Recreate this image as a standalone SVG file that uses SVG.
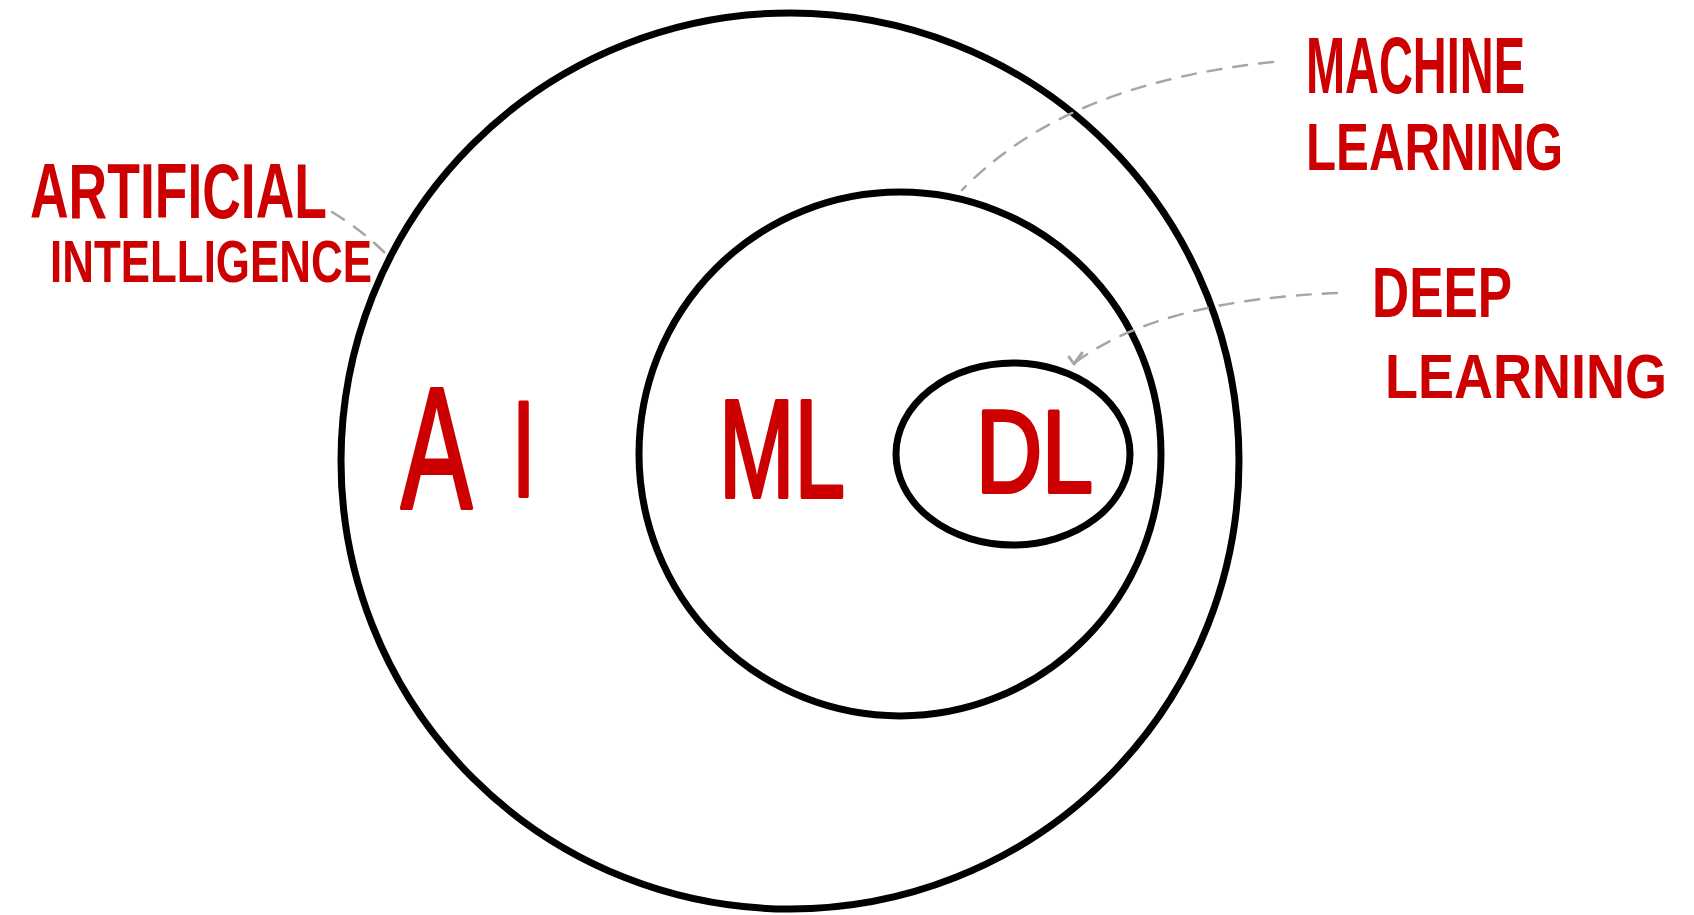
<svg xmlns="http://www.w3.org/2000/svg" width="1694" height="915" viewBox="0 0 1694 915">
<style>
.ring{fill:none;stroke:#000;stroke-width:7}
.lbl{fill:#cc0000;font-family:"Liberation Sans Narrow","Liberation Sans",sans-serif;font-weight:bold}
.big{fill:#cc0000;stroke:#cc0000;stroke-width:4;stroke-linejoin:round;font-family:"Liberation Sans Narrow","Liberation Sans",sans-serif;font-weight:normal}
.con{fill:none;stroke:#a6a6a6;stroke-width:2.5;stroke-dasharray:14 12;stroke-linecap:round}
</style>
<rect width="1694" height="915" fill="#fff"/>
<g id="ai">
<ellipse class="ring" cx="790" cy="461" rx="449" ry="448"/>
<text class="big" transform="translate(401,508) scale(0.62,1)" x="0" y="0" font-size="172">A<tspan x="179" y="-12" font-size="135">I</tspan></text>
</g>
<g id="ml">
<ellipse class="ring" cx="900" cy="454" rx="261" ry="262"/>
<text class="big" x="719" y="497" font-size="140" textLength="126" lengthAdjust="spacingAndGlyphs">ML</text>
</g>
<g id="dl">
<ellipse class="ring" cx="1013" cy="454" rx="117" ry="91"/>
<text class="big" x="976" y="492" font-size="116" textLength="117" lengthAdjust="spacingAndGlyphs">DL</text>
</g>
<g id="label-ai">
<text class="lbl" x="30" y="218" font-size="78" textLength="297" lengthAdjust="spacingAndGlyphs">ARTIFICIAL</text>
<text class="lbl" x="50" y="282" font-size="60" textLength="322" lengthAdjust="spacingAndGlyphs">INTELLIGENCE</text>
</g>
<g id="label-ml">
<text class="lbl" x="1306" y="93" font-size="80" textLength="219" lengthAdjust="spacingAndGlyphs">MACHINE</text>
<text class="lbl" x="1306" y="170" font-size="66" textLength="257" lengthAdjust="spacingAndGlyphs">LEARNING</text>
</g>
<g id="label-dl">
<text class="lbl" x="1372" y="317" font-size="70" textLength="140" lengthAdjust="spacingAndGlyphs">DEEP</text>
<text class="lbl" transform="translate(1385,398) scale(1,1.18)" x="0" y="0" font-size="54" textLength="282" lengthAdjust="spacingAndGlyphs">LEARNING</text>
</g>
<g id="connectors">
<path class="con" d="M 332 212 Q 365 232 390 258" stroke-dasharray="2 12 4 10 16 8"/>
<path class="con" d="M 1273 62 C 1150 75 1040 110 962 190"/>
<path class="con" d="M 1337 293 Q 1160 300 1076 362"/>
<path d="M 1069 357 L 1074 364 L 1082 353" fill="none" stroke="#a6a6a6" stroke-width="3" stroke-linecap="round" stroke-linejoin="round"/>
</g>
</svg>
